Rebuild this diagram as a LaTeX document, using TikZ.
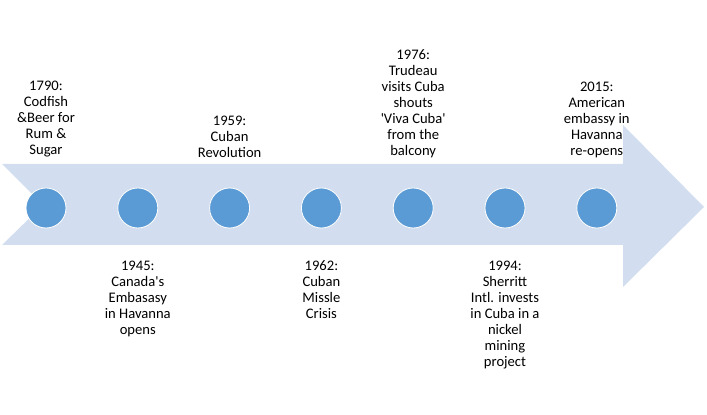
\documentclass[tikz,border=0pt]{standalone}
\usepackage{fontspec}
\setmainfont{Carlito}
\usetikzlibrary{positioning}
\definecolor{colBand}{RGB}{210,222,239}
\definecolor{colDot}{RGB}{91,155,213}
\tikzset{
  stageDot/.style={
    circle, fill=colDot, draw=white, line width=0.8pt,
    minimum size=40pt, inner sep=0pt
  },
  eventText/.style={
    font=\fontsize{14.6}{16}\selectfont, align=center,
    inner sep=0pt, text=black
  }
}

\begin{document}
\begin{tikzpicture}[x=1pt, y=1pt, node distance=51pt]
  \useasboundingbox (0,0) rectangle (707,415);

  % timeline arrow
  \fill[colBand] (2,251) -- (623,251) -- (623,290) -- (704,208) -- (623,128)
    -- (623,170) -- (2,170) -- (43,210) -- cycle;

  % stage dots
  \node[stageDot] (d1) at (46,207) {};
  \node[stageDot, right=of d1] (d2) {};
  \node[stageDot, right=of d2] (d3) {};
  \node[stageDot, right=of d3] (d4) {};
  \node[stageDot, right=of d4] (d5) {};
  \node[stageDot, right=of d5] (d6) {};
  \node[stageDot, right=of d6] (d7) {};

  % events above the arrow
  \node[eventText, above=30pt of d1] (t1790) {1790:\\Codfish\\\&Beer for\\Rum \&\\Sugar};
  \node[eventText, above=30pt of d3] (t1959) {1959:\\Cuban\\Revolution};
  \node[eventText, above=30pt of d5] (t1976) {1976:\\Trudeau\\visits Cuba\\shouts\\\textquotesingle Viva Cuba\textquotesingle\\from the\\balcony};
  \node[eventText, above=30pt of d7] (t2015) {2015:\\American\\embassy in\\Havanna\\re-opens};

  % events below the arrow
  \node[eventText, below=32pt of d2] (t1945) {1945:\\Canada\textquotesingle s\\Embasasy\\in Havanna\\opens};
  \node[eventText, below=32pt of d4] (t1962) {1962:\\Cuban\\Missle\\Crisis};
  \node[eventText, below=32pt of d6] (t1994) {1994:\\Sherritt\\Intl. invests\\in Cuba in a\\nickel\\mining\\project};

\end{tikzpicture}
\end{document}
